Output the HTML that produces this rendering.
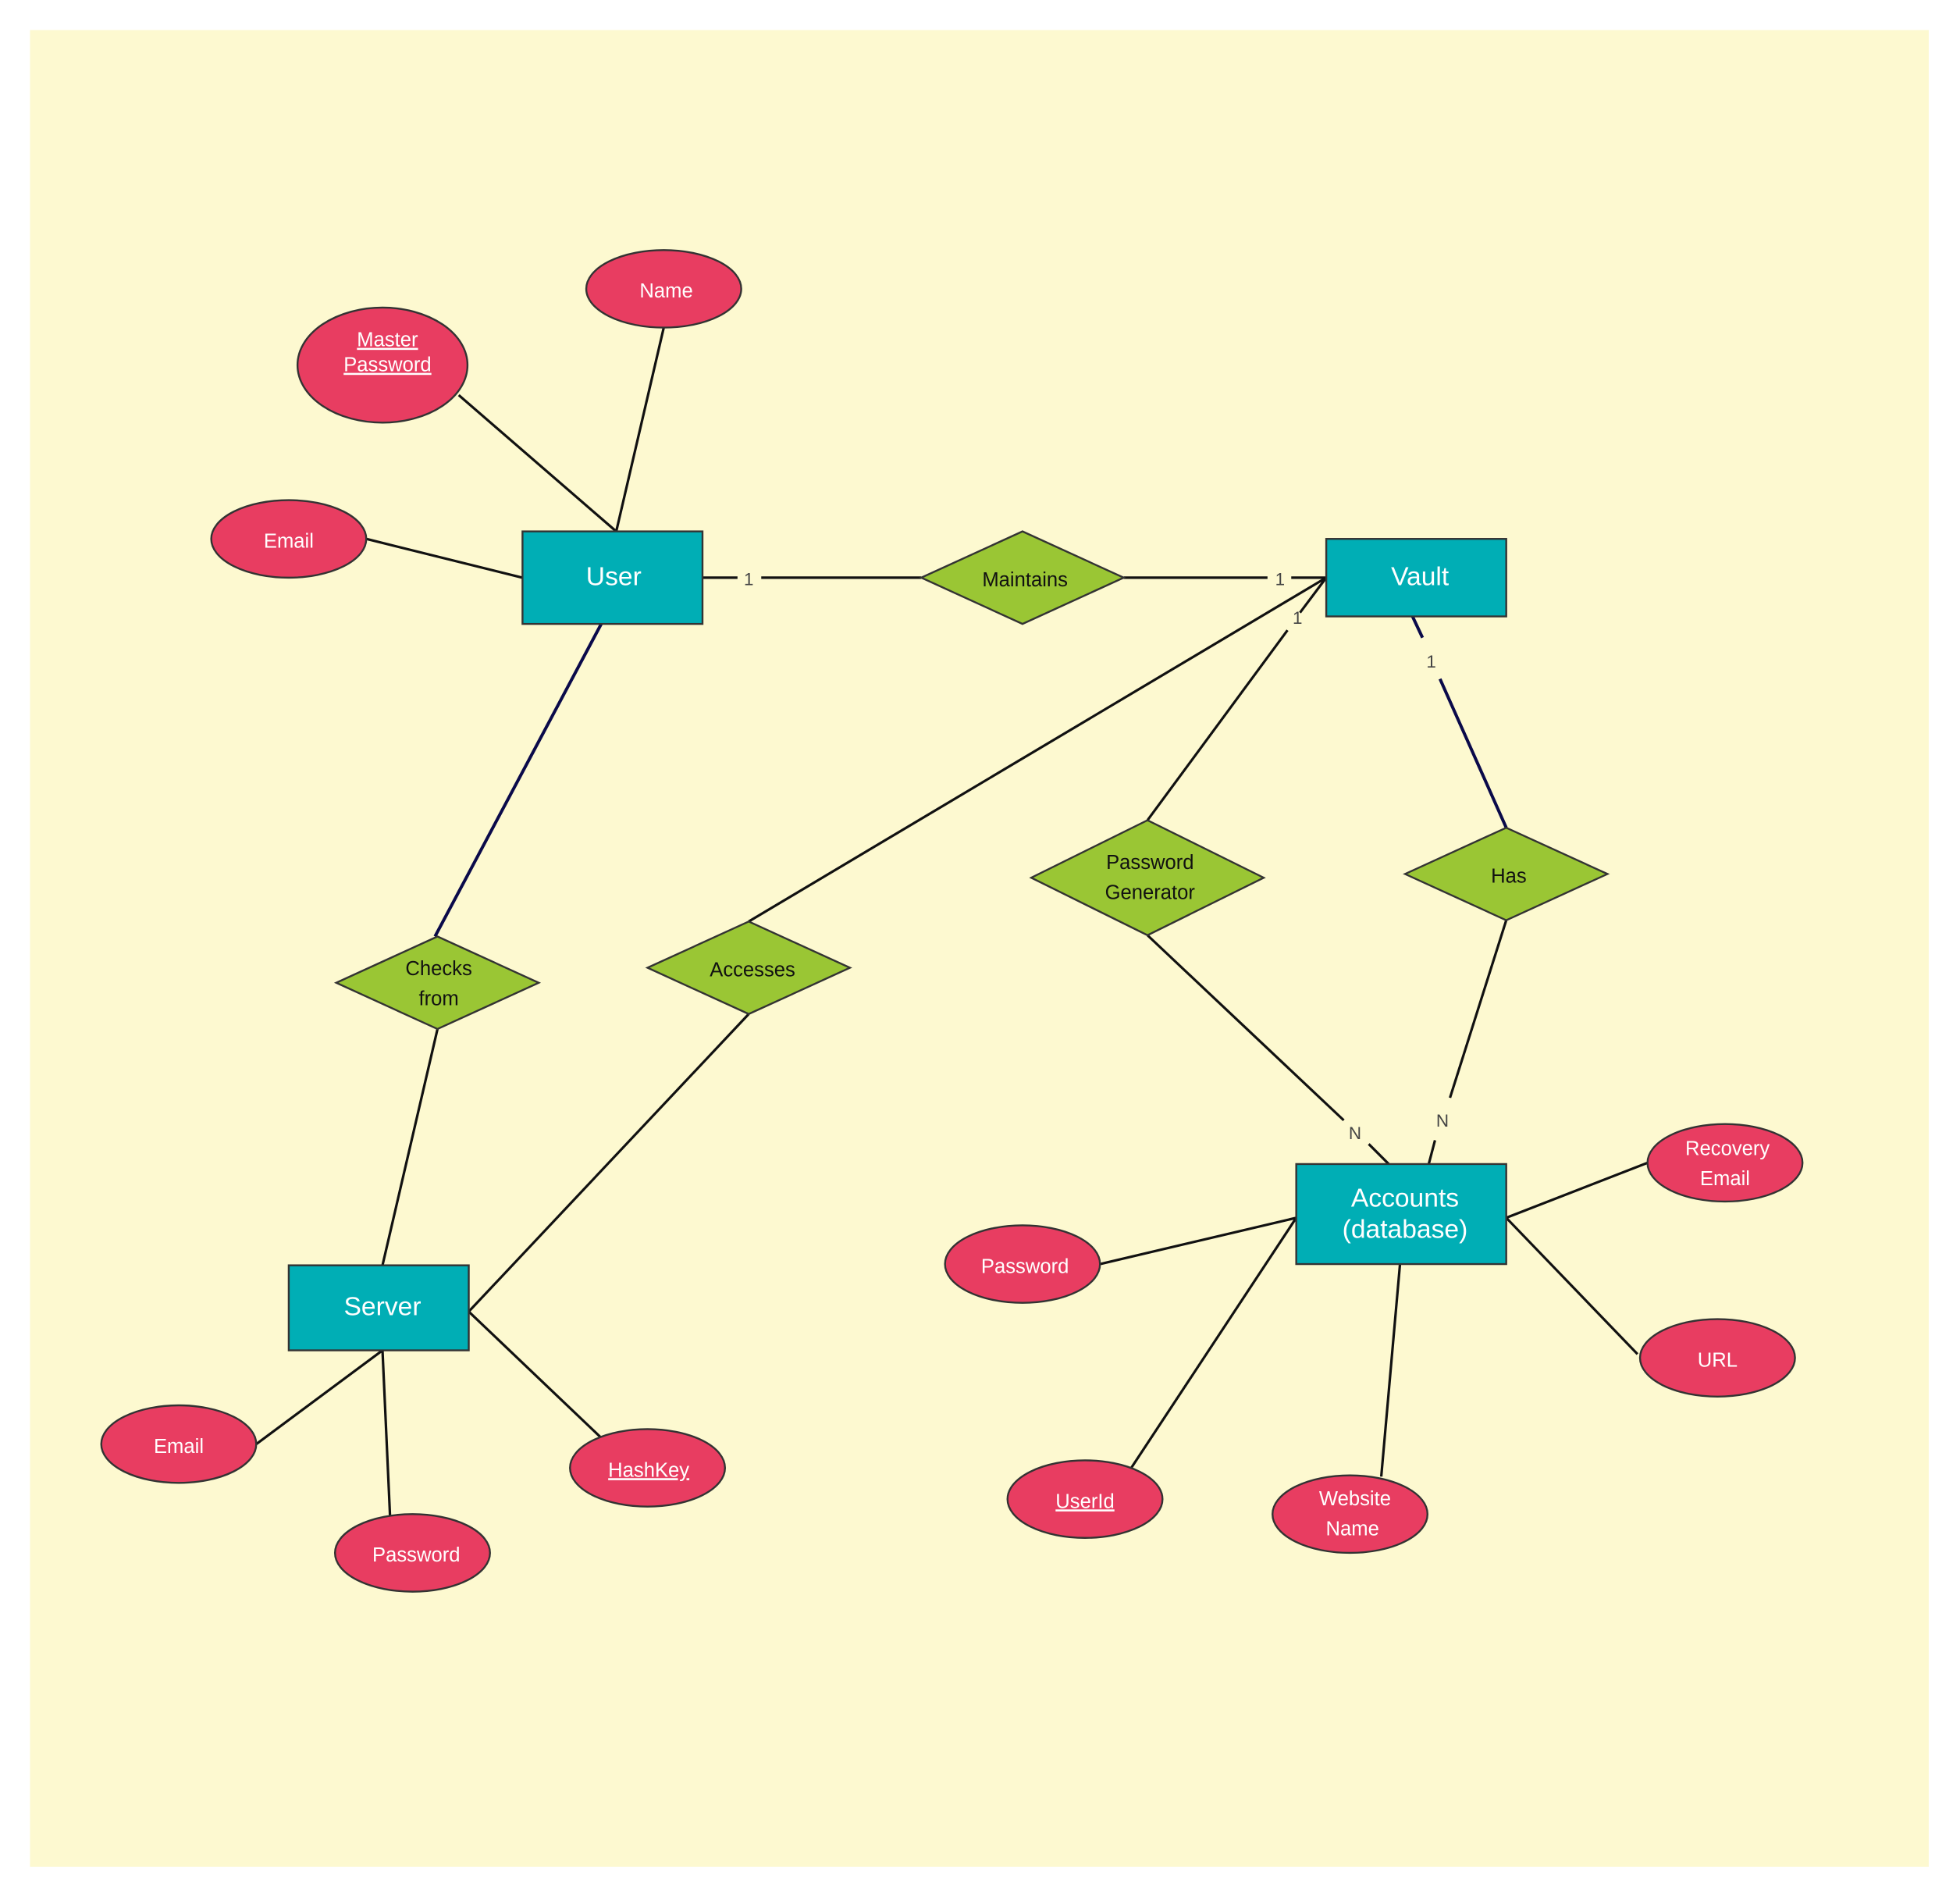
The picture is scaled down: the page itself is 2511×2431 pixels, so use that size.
<!DOCTYPE html>
<html><head><meta charset="utf-8"><style>
html,body{margin:0;padding:0;background:#fff;}
svg{display:block;}
text{font-family:"Liberation Sans",sans-serif;}
</style></head><body>
<svg width="2511" height="2431" viewBox="0 0 1568 1518" xmlns="http://www.w3.org/2000/svg">
<rect x="0" y="0" width="1568" height="1518" fill="#fff"/>
<rect x="24" y="24" width="1519" height="1469" fill="#fdf9d0"/>
<g stroke="#111" stroke-width="2" fill="none">
<line x1="531" y1="262" x2="493" y2="425"/>
<line x1="367" y1="316" x2="493" y2="425"/>
<line x1="293" y1="431" x2="418" y2="462"/>
<line x1="562" y1="462" x2="590" y2="462"/>
<line x1="609" y1="462" x2="737" y2="462"/>
<line x1="899" y1="462" x2="1014" y2="462"/>
<line x1="1033" y1="462" x2="1061" y2="462"/>
<line x1="599" y1="737" x2="1061" y2="462"/>
<line x1="918" y1="656" x2="1030" y2="504"/>
<line x1="1040" y1="490" x2="1061" y2="462"/>
<line x1="1205" y1="736" x2="1160" y2="878"/>
<line x1="1148" y1="912" x2="1143" y2="931"/>
<line x1="918" y1="748" x2="1075" y2="896"/>
<line x1="1095" y1="915" x2="1111" y2="931"/>
<line x1="350" y1="823" x2="306" y2="1012"/>
<line x1="599" y1="811" x2="375" y2="1049"/>
<line x1="375" y1="1049" x2="481" y2="1150"/>
<line x1="306" y1="1080" x2="205" y2="1155"/>
<line x1="306" y1="1080" x2="312" y2="1212"/>
<line x1="1037" y1="974" x2="880" y2="1011"/>
<line x1="1037" y1="974" x2="905" y2="1174"/>
<line x1="1120" y1="1011" x2="1105" y2="1181"/>
<line x1="1205" y1="974" x2="1318" y2="930"/>
<line x1="1205" y1="974" x2="1310" y2="1083"/>
</g>
<g stroke="#0a0a4a" stroke-width="2.5" fill="none">
<line x1="481" y1="499" x2="348" y2="749"/>
<line x1="1130" y1="493" x2="1138" y2="510"/>
<line x1="1152" y1="543" x2="1205" y2="662"/>
</g>
<g font-size="14" fill="#444" text-anchor="middle" style="font-family:'Liberation Serif',serif">
<text x="599" y="468">1</text>
<text x="1024" y="468">1</text>
<text x="1038" y="499">1</text>
<text x="1145" y="534">1</text>
<text x="1154" y="901">N</text>
<text x="1084" y="911">N</text>
</g>
<g fill="#00aeb5" stroke="#333" stroke-width="1.5">
<rect x="418" y="425" width="144" height="74"/>
<rect x="1061" y="431" width="144" height="62"/>
<rect x="231" y="1012" width="144" height="68"/>
<rect x="1037" y="931" width="168" height="80"/>
</g>
<g fill="#fff" font-size="21" text-anchor="middle">
<text x="491" y="468">User</text>
<text x="1136" y="468">Vault</text>
<text x="306" y="1052">Server</text>
<text x="1124" y="965">Accounts</text>
<text x="1124" y="990">(database)</text>
</g>
<g fill="#9ac634" stroke="#333" stroke-width="1.5">
<polygon points="737,462 818,425 899,462 818,499"/>
<polygon points="269,786 350,749 431,786 350,823"/>
<polygon points="518,774 599,737 680,774 599,811"/>
<polygon points="825,702 918,656 1011,702 918,748"/>
<polygon points="1124,699 1205,662 1286,699 1205,736"/>
</g>
<g fill="#111" font-size="16" text-anchor="middle">
<text x="820" y="469">Maintains</text>
<text x="351" y="780">Checks</text>
<text x="351" y="804">from</text>
<text x="602" y="781">Accesses</text>
<text x="920" y="695">Password</text>
<text x="920" y="719">Generator</text>
<text x="1207" y="706">Has</text>
</g>
<g fill="#e83d61" stroke="#333" stroke-width="1.5">
<ellipse cx="531" cy="231" rx="62" ry="31"/>
<ellipse cx="306" cy="292" rx="68" ry="46"/>
<ellipse cx="231" cy="431" rx="62" ry="31"/>
<ellipse cx="143" cy="1155" rx="62" ry="31"/>
<ellipse cx="330" cy="1242" rx="62" ry="31"/>
<ellipse cx="518" cy="1174" rx="62" ry="31"/>
<ellipse cx="818" cy="1011" rx="62" ry="31"/>
<ellipse cx="868" cy="1199" rx="62" ry="31"/>
<ellipse cx="1080" cy="1211" rx="62" ry="31"/>
<ellipse cx="1374" cy="1086" rx="62" ry="31"/>
<ellipse cx="1380" cy="930" rx="62" ry="31"/>
</g>
<g fill="#fff" font-size="16" text-anchor="middle">
<text x="533" y="238">Name</text>
<text x="310" y="277" text-decoration="underline">Master</text>
<text x="310" y="297" text-decoration="underline">Password</text>
<text x="231" y="438">Email</text>
<text x="143" y="1162">Email</text>
<text x="333" y="1249">Password</text>
<text x="519" y="1181" text-decoration="underline">HashKey</text>
<text x="820" y="1018">Password</text>
<text x="868" y="1206" text-decoration="underline">UserId</text>
<text x="1084" y="1204">Website</text>
<text x="1082" y="1228">Name</text>
<text x="1374" y="1093">URL</text>
<text x="1382" y="924">Recovery</text>
<text x="1380" y="948">Email</text>
</g>
</svg>
</body></html>
